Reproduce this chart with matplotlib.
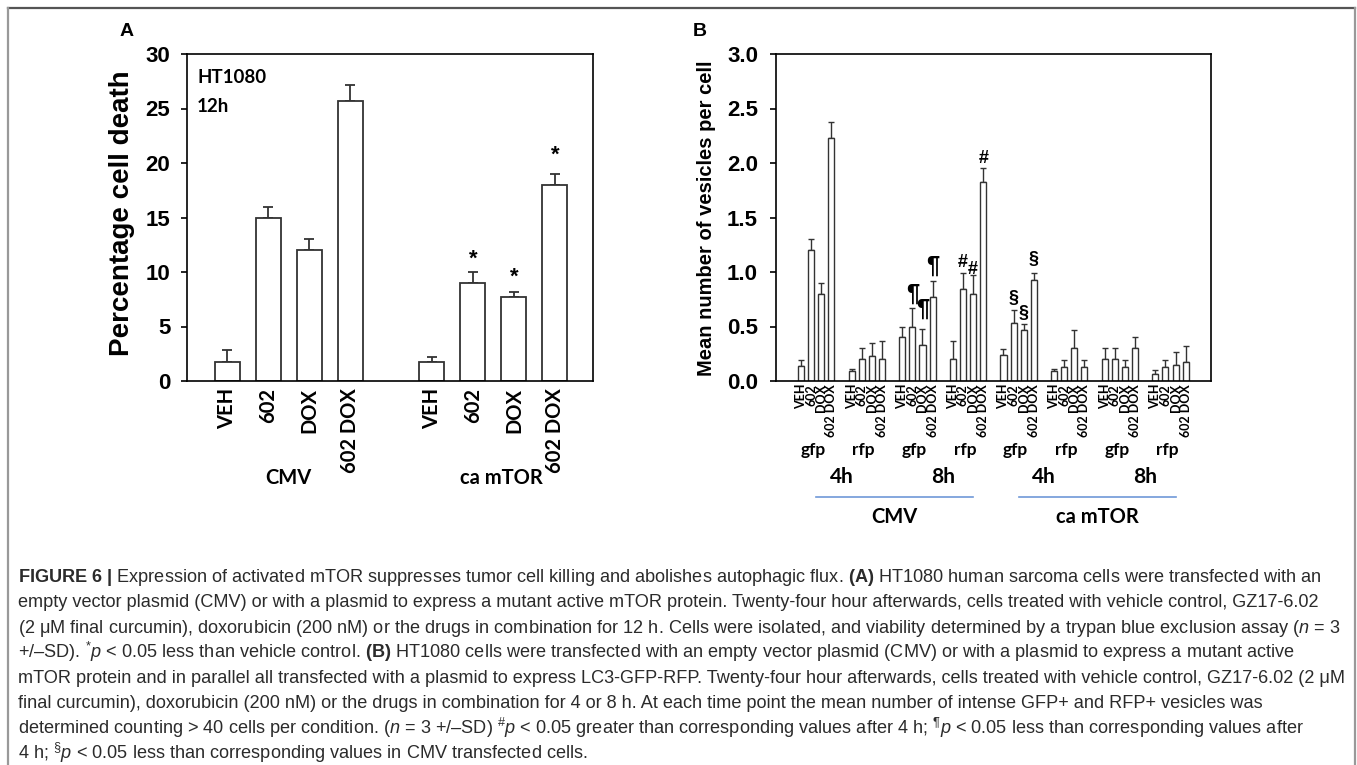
import matplotlib
matplotlib.use('Agg')
import matplotlib.pyplot as plt
import numpy as np
from matplotlib.lines import Line2D

plt.rcParams['mathtext.fontset'] = 'custom'
plt.rcParams['mathtext.rm'] = 'Liberation Sans'
plt.rcParams['mathtext.it'] = 'Liberation Sans:italic'
plt.rcParams['mathtext.bf'] = 'Liberation Sans:bold'
plt.rcParams['font.family'] = ['Liberation Sans', 'DejaVu Sans']

# ---------------- data ----------------
treatments = ['VEH', '602', 'DOX', '602 DOX']
a_groups = ['CMV', 'ca mTOR']
a_cmv_mean = [1.7, 15.0, 12.0, 25.7]
a_cmv_sd = [1.1, 1.0, 1.0, 1.5]
a_mtor_mean = [1.7, 9.0, 7.7, 18.0]
a_mtor_sd = [0.5, 1.0, 0.5, 1.0]
a_star_bars = [1, 2, 3]            # ca mTOR bars with *
a_star_y = [10.65, 9.0, 20.25]

b_channels = ['gfp', 'rfp', 'gfp', 'rfp', 'gfp', 'rfp', 'gfp', 'rfp']
b_times = ['4h', '8h', '4h', '8h']
b_constructs = ['CMV', 'ca mTOR']
b_means = [
    [0.14, 1.20, 0.80, 2.23],
    [0.09, 0.20, 0.23, 0.20],
    [0.40, 0.50, 0.33, 0.77],
    [0.20, 0.84, 0.80, 1.83],
    [0.24, 0.53, 0.47, 0.93],
    [0.09, 0.13, 0.30, 0.13],
    [0.20, 0.20, 0.13, 0.30],
    [0.06, 0.13, 0.15, 0.17],
]
b_sds = [
    [0.05, 0.10, 0.10, 0.15],
    [0.02, 0.10, 0.12, 0.17],
    [0.10, 0.17, 0.15, 0.15],
    [0.17, 0.15, 0.17, 0.12],
    [0.05, 0.12, 0.05, 0.06],
    [0.02, 0.06, 0.17, 0.06],
    [0.10, 0.10, 0.06, 0.10],
    [0.04, 0.06, 0.12, 0.15],
]
# annotations: (group, bar, symbol, baseline y)
b_marks_group = [3, 3, 3, 2, 2, 2, 4, 4, 4]
b_marks_bar = [3, 1, 2, 1, 2, 3, 1, 2, 3]
b_marks_sym = ['#', '#', '#', '¶', '¶', '¶', '§', '§', '§']
b_marks_y = [2.00, 1.05, 0.98, 0.74, 0.60, 0.99, 0.72, 0.58, 1.07]

caption_lines = [
    r"$\mathbf{FIGURE\ 6\ |}$ Expression of activated mTOR suppresses tumor cell killing and abolishes autophagic flux. $\mathbf{(A)}$ HT1080 human sarcoma cells were transfected with an",
    r"empty vector plasmid (CMV) or with a plasmid to express a mutant active mTOR protein. Twenty-four hour afterwards, cells treated with vehicle control, GZ17-6.02",
    r"(2 μM final curcumin), doxorubicin (200 nM) or the drugs in combination for 12 h. Cells were isolated, and viability determined by a trypan blue exclusion assay ($\mathit{n}$ = 3",
    r"+/–SD). $^{*}\mathit{p}$ < 0.05 less than vehicle control. $\mathbf{(B)}$ HT1080 cells were transfected with an empty vector plasmid (CMV) or with a plasmid to express a mutant active",
    r"mTOR protein and in parallel all transfected with a plasmid to express LC3-GFP-RFP. Twenty-four hour afterwards, cells treated with vehicle control, GZ17-6.02 (2 μM",
    r"final curcumin), doxorubicin (200 nM) or the drugs in combination for 4 or 8 h. At each time point the mean number of intense GFP+ and RFP+ vesicles was",
    r"determined counting > 40 cells per condition. ($\mathit{n}$ = 3 +/–SD) $^{\#}\mathit{p}$ < 0.05 greater than corresponding values after 4 h; $^{¶}\mathit{p}$ < 0.05 less than corresponding values after",
    r"4 h; $^{§}\mathit{p}$ < 0.05 less than corresponding values in CMV transfected cells.",
]

# ---------------- figure ----------------
W, H = 1357, 765
fig = plt.figure(figsize=(W / 100, H / 100), dpi=100)


def fx(px):
    return px / W


def fy(py):
    return 1 - py / H


CAL = ['Lato', 'DejaVu Sans']
EDGE = '#333333'

# ---------------- panel A ----------------
axA = fig.add_axes([fx(187), fy(381), fx(593) - fx(187), fy(54) - fy(381)])
xa_cmv = np.arange(4)
xa_mtor = np.arange(4) + 5
for xs, m, s in [(xa_cmv, a_cmv_mean, a_cmv_sd), (xa_mtor, a_mtor_mean, a_mtor_sd)]:
    axA.bar(xs, m, width=0.61, color='white', edgecolor=EDGE, linewidth=1.3, zorder=2)
    axA.errorbar(xs, m, yerr=[np.zeros(len(s)), s], fmt='none', ecolor=EDGE,
                 elinewidth=1.3, capsize=3.6, capthick=1.3, zorder=1)
for b, yv in zip(a_star_bars, a_star_y):
    axA.text(xa_mtor[b], yv, '*', ha='center', va='baseline', fontsize=16,
             fontweight='bold')
axA.set_xlim(-0.98, 8.93)
axA.set_ylim(0, 30)
axA.set_yticks(np.arange(0, 31, 5))
axA.set_yticklabels([str(v) for v in range(0, 31, 5)], fontsize=16, fontweight='bold')
axA.set_xticks(list(xa_cmv) + list(xa_mtor))
axA.set_xticklabels(treatments * 2, rotation=90, fontsize=14.5, fontweight='bold',
                    family=CAL, va='top')
axA.tick_params(axis='x', length=0, pad=5)
axA.tick_params(axis='y', direction='out', length=4, width=1.2, pad=8)
for sp in axA.spines.values():
    sp.set_linewidth(1.2)
trA = axA.get_xaxis_transform()
axA.text(1.5, -0.297, a_groups[0], transform=trA, ha='center', va='center',
         fontsize=14.5, fontweight='bold', family=CAL)
axA.text(6.7, -0.297, a_groups[1], transform=trA, ha='center', va='center',
         fontsize=14.5, fontweight='bold', family=CAL)
axA.text(0.025, 0.927, 'HT1080', transform=axA.transAxes, ha='left', va='center',
         fontsize=13.5, fontweight='bold', family=CAL)
axA.text(0.025, 0.838, '12h', transform=axA.transAxes, ha='left', va='center',
         fontsize=13.5, fontweight='bold', family=CAL)
fig.text(fx(122), fy(213), 'Percentage cell death', rotation=90, ha='center',
         va='center', fontsize=20, fontweight='bold')
fig.text(fx(127), fy(32), 'A', ha='center', va='center', fontsize=14, fontweight='bold')

# ---------------- panel B ----------------
axB = fig.add_axes([fx(776), fy(381), fx(1211) - fx(776), fy(54) - fy(381)])
all_x = []
for g in range(len(b_means)):
    xs = g * 5 + np.arange(4)
    all_x += list(xs)
    axB.bar(xs, b_means[g], width=0.6, color='white', edgecolor=EDGE, linewidth=1.0,
            zorder=2)
    axB.errorbar(xs, b_means[g], yerr=[np.zeros(4), b_sds[g]], fmt='none',
                 ecolor=EDGE, elinewidth=1.0, capsize=2.3, capthick=1.0, zorder=1)
for g, b, sym, yv in zip(b_marks_group, b_marks_bar, b_marks_sym, b_marks_y):
    fs = 17 if sym == '¶' else 13
    axB.text(g * 5 + b, yv, sym, ha='center', va='baseline', fontsize=fs,
             fontweight='bold')
axB.set_xlim(-2.47, 40.5)
axB.set_ylim(0, 3)
yt = np.arange(0, 3.01, 0.5)
axB.set_yticks(yt)
axB.set_yticklabels([f'{v:.1f}' for v in yt], fontsize=16, fontweight='bold')
axB.set_xticks(all_x)
axB.set_xticklabels(treatments * len(b_means), rotation=90, fontsize=9,
                    fontweight='bold', family=CAL, va='top')
axB.tick_params(axis='x', length=0, pad=2)
axB.tick_params(axis='y', direction='out', length=4, width=1.2, pad=9)
for sp in axB.spines.values():
    sp.set_linewidth(1.2)
trB = axB.get_xaxis_transform()
for g, ch in enumerate(b_channels):
    axB.text(g * 5 + 1.5 - 0.3, -0.211, ch, transform=trB, ha='center', va='center',
             fontsize=12.5, fontweight='bold', family=CAL)
for p, t in enumerate(b_times):
    axB.text(p * 10 + 4, -0.294, t, transform=trB, ha='center', va='center',
             fontsize=15, fontweight='bold', family=CAL)
for c, name in enumerate(b_constructs):
    x0 = c * 20 + 1.5
    x1 = c * 20 + 17
    axB.plot([x0, x1], [-0.355, -0.355], transform=trB, clip_on=False,
             color='#7098d8', lw=1.2)
    axB.text((x0 + x1) / 2, -0.416, name, transform=trB, ha='center', va='center',
             fontsize=14.5, fontweight='bold', family=CAL)
fig.text(fx(706), fy(218), 'Mean number of vesicles per cell', rotation=90,
         ha='center', va='center', fontsize=14.5, fontweight='bold')
fig.text(fx(700), fy(32), 'B', ha='center', va='center', fontsize=14, fontweight='bold')

# ---------------- frame ----------------
fig.add_artist(Line2D([fx(8), fx(1355)], [fy(8), fy(8)], color='#555555', lw=1.6))
fig.add_artist(Line2D([fx(8), fx(8)], [fy(8), 0], color='#999999', lw=1.6))
fig.add_artist(Line2D([fx(1355), fx(1355)], [fy(8), 0], color='#999999', lw=1.6))

# ---------------- caption ----------------
renderer = fig.canvas.get_renderer()
base = 12
texts = []
for i, line in enumerate(caption_lines):
    t = fig.text(fx(18), fy(582 + 25.3 * i), line, ha='left', va='baseline',
                 fontsize=base, color='#2b2b2b')
    texts.append(t)
w0 = texts[0].get_window_extent(renderer).width
scale = 1300 / w0
for t in texts:
    t.set_fontsize(base * scale)

fig.savefig('out.png', dpi=100)
